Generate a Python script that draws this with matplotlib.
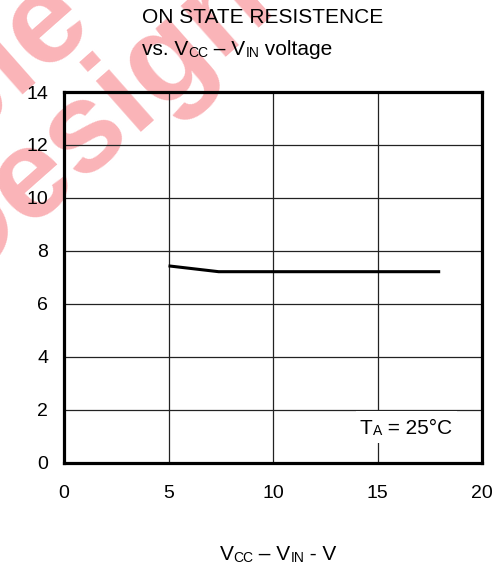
import matplotlib
matplotlib.use("Agg")
import matplotlib.pyplot as plt
from matplotlib.patches import Rectangle

plt.rcParams['font.family'] = ['Liberation Sans', 'DejaVu Sans']

# On-state resistance vs. supply-minus-input voltage
vcc_minus_vin = [5.0, 7.4, 18.0]
resistance = [7.43, 7.21, 7.21]

x_ticks = [0, 5, 10, 15, 20]
y_ticks = [0, 2, 4, 6, 8, 10, 12, 14]

W, H = 502, 571
DPI = 100


def fx(px):
    return px / W


def fy(py):
    return 1 - py / H


fig = plt.figure(figsize=(W / DPI, H / DPI), dpi=DPI)
fig.patch.set_facecolor('white')
renderer = fig.canvas.get_renderer()


def rich_text(x_px, y_px, runs, ha='left', zorder=3):
    """Draw a line of text built from (string, fontsize, baseline shift px) runs."""
    arts, widths = [], []
    for s, size, _ in runs:
        t = fig.text(0, 0, s, fontsize=size, ha='left', va='baseline', zorder=zorder)
        widths.append(t.get_window_extent(renderer=renderer).width)
        arts.append(t)
    x0 = x_px - (sum(widths) / 2 if ha == 'center' else 0)
    for t, w, (_, _, dy) in zip(arts, widths, runs):
        t.set_position((fx(x0), fy(y_px + dy)))
        x0 += w


# faint watermark behind everything
wm_color = '#fab4b8'
fig.text(fx(95), fy(121), 'Design', rotation=41.5, rotation_mode='anchor',
         ha='center', va='center', fontsize=92, fontweight='bold',
         color=wm_color, zorder=-5)
fig.text(fx(74), fy(2), 'Sample', rotation=41.5, rotation_mode='anchor',
         ha='right', va='center', fontsize=92, fontweight='bold',
         color=wm_color, zorder=-5)

ax = fig.add_axes([fx(64), fy(462.5), fx(482) - fx(64), fy(92) - fy(462.5)])
ax.set_facecolor('none')

ax.plot(vcc_minus_vin, resistance, color='black', lw=2.2, zorder=4,
        solid_capstyle='butt')

ax.set_xlim(x_ticks[0], x_ticks[-1])
ax.set_ylim(y_ticks[0], y_ticks[-1])
ax.set_xticks(x_ticks)
ax.set_yticks(y_ticks)
ax.grid(True, color='#222222', lw=0.9)
ax.set_axisbelow(True)
ax.tick_params(axis='both', length=0, labelsize=14)
ax.tick_params(axis='y', pad=11.5)
ax.tick_params(axis='x', pad=16)
for s in ax.spines.values():
    s.set_linewidth(2.3)
    s.set_color('black')
    s.set_zorder(5)

# annotation with a white backing box
fig.add_artist(Rectangle((fx(356), fy(443)), fx(457) - fx(356), fy(411) - fy(443),
                         transform=fig.transFigure, facecolor='white',
                         edgecolor='none', zorder=2))
rich_text(360, 434, [('T', 15, 0), ('A', 10, 1), (' = 25°C', 15, 0)])

SUB = 10
rich_text(142, 23, [('ON STATE RESISTENCE', 15, 0)])
rich_text(142, 55, [('vs. V', 15, 0), ('CC', SUB, 2), (' – V', 15, 0),
                    ('IN', SUB, 2), (' voltage', 15, 0)])
rich_text(278, 560, [('V', 15, 0), ('CC', SUB, 2), (' – V', 15, 0),
                     ('IN', SUB, 2), (' - V', 15, 0)], ha='center')

fig.savefig('out.png', dpi=DPI, facecolor='white')
